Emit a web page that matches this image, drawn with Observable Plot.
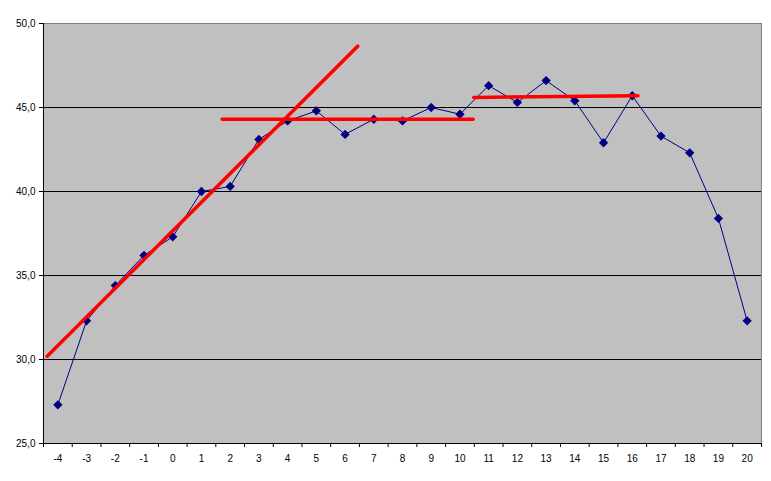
<!DOCTYPE html>
<html><head><meta charset="utf-8">
<script src="https://cdn.jsdelivr.net/npm/d3@7"></script>
<script src="https://cdn.jsdelivr.net/npm/@observablehq/plot@0.6"></script>
<style>body{margin:0;background:#fff}</style>
</head><body><div id="chart"></div>
<script>
const categories = [-4,-3,-2,-1,0,1,2,3,4,5,6,7,8,9,10,11,12,13,14,15,16,17,18,19,20];
const values = [27.3,32.3,34.4,36.2,37.3,40.0,40.3,43.1,44.2,44.8,43.4,44.3,44.2,45.0,44.6,46.3,45.3,46.6,45.4,42.9,45.7,43.3,42.3,38.4,32.3];
const trendX = [-4.37, 6.44];
const trendY = [30.2, 48.65];
const plateau1X = [1.72, 10.46];
const plateau1Y = [44.3, 44.3];
const plateau2X = [10.48, 16.2];
const plateau2Y = [45.6, 45.7];
const yTicks = [25, 30, 35, 40, 45, 50];
const gridTicks = [30, 35, 40, 45];
const xEdges = categories.map(c => c - 0.5).concat([categories[categories.length - 1] + 0.5]);

const fmt = d => d.toFixed(1).replace(".", ",");
const redLine = (xs, ys) => Plot.line(xs.map((x, i) => ({x, y: ys[i]})), {x: "x", y: "y", stroke: "#FF0000", strokeWidth: 3.5});

const chart = Plot.plot({
  width: 771, height: 481,
  marginLeft: 43, marginRight: 10, marginTop: 23, marginBottom: 38,
  style: {fontFamily: "'Liberation Sans', Arial, sans-serif", fontSize: "10px", color: "#000", background: "#fff"},
  x: {type: "linear", domain: [xEdges[0], xEdges[xEdges.length - 1]]},
  y: {domain: [25, 50]},
  marks: [
    Plot.frame({fill: "#C0C0C0", stroke: "#808080"}),
    Plot.ruleY(gridTicks, {stroke: "#000"}),
    Plot.ruleX([xEdges[0]], {stroke: "#000"}),
    Plot.ruleY([25], {stroke: "#000"}),
    Plot.axisY(yTicks, {tickFormat: fmt, tickSize: 4, tickPadding: 4, label: null, stroke: "#000"}),
    Plot.axisX(xEdges, {tickSize: 4, tickFormat: () => "", label: null, stroke: "#000"}),
    Plot.axisX(categories, {tickSize: 0, tickPadding: 11, tickFormat: d => String(d), label: null}),
    Plot.line(categories.map((c, i) => ({x: c, y: values[i]})), {x: "x", y: "y", stroke: "#000080", strokeWidth: 1}),
    Plot.dot(categories.map((c, i) => ({x: c, y: values[i]})), {x: "x", y: "y", symbol: "diamond2", fill: "#000080", stroke: "none", r: 4.2}),
    redLine(trendX, trendY),
    redLine(plateau1X, plateau1Y),
    redLine(plateau2X, plateau2Y)
  ]
});
document.getElementById("chart").appendChild(chart);
</script>
</body></html>
